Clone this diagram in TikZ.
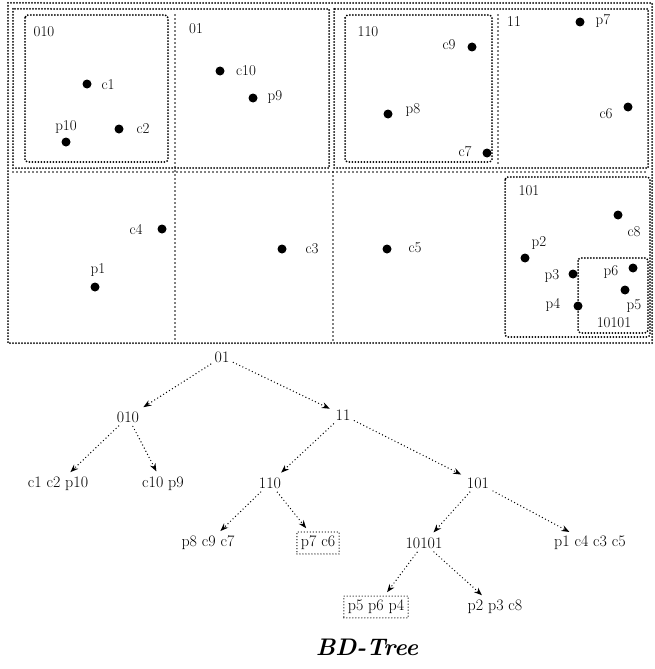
\documentclass[tikz,border=0pt]{standalone}
\usepackage{tikz}
\usetikzlibrary{arrows.meta}

\begin{document}
\begin{tikzpicture}[x=1pt, y=-1pt,
  frame/.style={line width=2pt, line cap=round, dash pattern=on 0pt off 3pt},
  cell/.style={line width=1.6pt, line cap=round, dash pattern=on 0pt off 4pt},
  dot/.style={circle, fill=black, inner sep=0pt, minimum size=9pt},
  lbl/.style={font=\fontsize{15}{17}\selectfont, inner sep=1pt},
  tnode/.style={font=\fontsize{16}{18}\selectfont, inner sep=2pt},
  leafbox/.style={tnode, draw, inner sep=4pt, line width=1.3pt, line cap=round, dash pattern=on 0pt off 3pt},
  arrow/.style={-{Stealth[length=8pt, width=6pt]}, line width=1.4pt, line cap=round,
                dash pattern=on 0pt off 3.5pt, shorten >=4pt, shorten <=2pt}
]
  \useasboundingbox (0,0) rectangle (655,669);

  % data space
  \draw[frame] (8,3) rectangle (652,343);
  \draw[frame] (13,9) rectangle (329,168);
  \draw[frame] (334,9) rectangle (648,168);
  \draw[frame, rounded corners=3pt] (25,15) rectangle (168,162);
  \draw[frame, rounded corners=3pt] (345,15) rectangle (492,162);
  \draw[frame, rounded corners=3pt] (505,177) rectangle (650,337);
  \draw[frame, rounded corners=3pt] (578,258) rectangle (648,333);
  \draw[cell] (175,15) -- (175,340);
  \draw[cell] (333,172) -- (333,340);
  \draw[cell] (498,15) -- (498,165);
  \draw[cell] (13,172) -- (648,172);

  % region names
  \node[lbl] (r010) at (44,32) {010};
  \node[lbl] (r01) at (196,29) {01};
  \node[lbl] (r110) at (368,32) {110};
  \node[lbl] (r11) at (514,22) {11};
  \node[lbl] (r101) at (529,191) {101};
  \node[lbl] (r10101) at (614,323) {10101};

  % points
  \foreach \n/\x/\y/\lx/\ly in {c1/87/84/108/85, p10/66/142/66/127, c2/119/129/143/129,
      c10/220/71/246/71, p9/253/98/275/97, c9/472/47/449/45, p8/388/114/413/110,
      c7/487/153/465/152, p7/580/22/603/21, c6/628/107/606/114,
      c4/162/229/136/230, p1/95/287/98/270, c3/282/249/312/249, c5/387/249/415/248,
      c8/618/215/634/232, p2/525/258/539/243, p3/573/274/552/276,
      p6/633/268/611/272, p5/625/290/634/306, p4/578/306/553/305} {
    \node[dot] (\n) at (\x,\y) {};
    \node[lbl] (\n-l) at (\lx,\ly) {\n};
  }

  % BD-tree
  \node[tnode] (root) at (222,357) {01};
  \node[tnode] (t010) at (128,417) {010};
  \node[tnode] (t11) at (343,415) {11};
  \node[tnode] (t110) at (270,483) {110};
  \node[tnode] (t101) at (478,483) {101};
  \node[tnode] (t10101) at (424,543) {10101};
  \node[tnode] (leaf1) at (58,484) {c1 c2 p10};
  \node[tnode] (leaf2) at (163,484) {c10 p9};
  \node[tnode] (leaf3) at (208,543) {p8 c9 c7};
  \node[leafbox] (leaf4) at (318,543) {p7 c6};
  \node[tnode, anchor=west] (leaf5) at (552,543) {p1 c4 c3 c5};
  \node[leafbox] (leaf6) at (376,607) {p5 p6 p4};
  \node[tnode] (leaf7) at (495,607) {p2 p3 c8};

  \foreach \a/\b in {root/t010, root/t11, t010/leaf1, t010/leaf2, t11/t110, t11/t101,
      t110/leaf3, t110/leaf4, t101/t10101, t101/leaf5, t10101/leaf6, t10101/leaf7} {
    \draw[arrow] (\a) -- (\b);
  }

  \node[font=\fontsize{24}{26}\selectfont\bfseries\itshape] (title) at (367,647) {BD-Tree};
\end{tikzpicture}
\end{document}
